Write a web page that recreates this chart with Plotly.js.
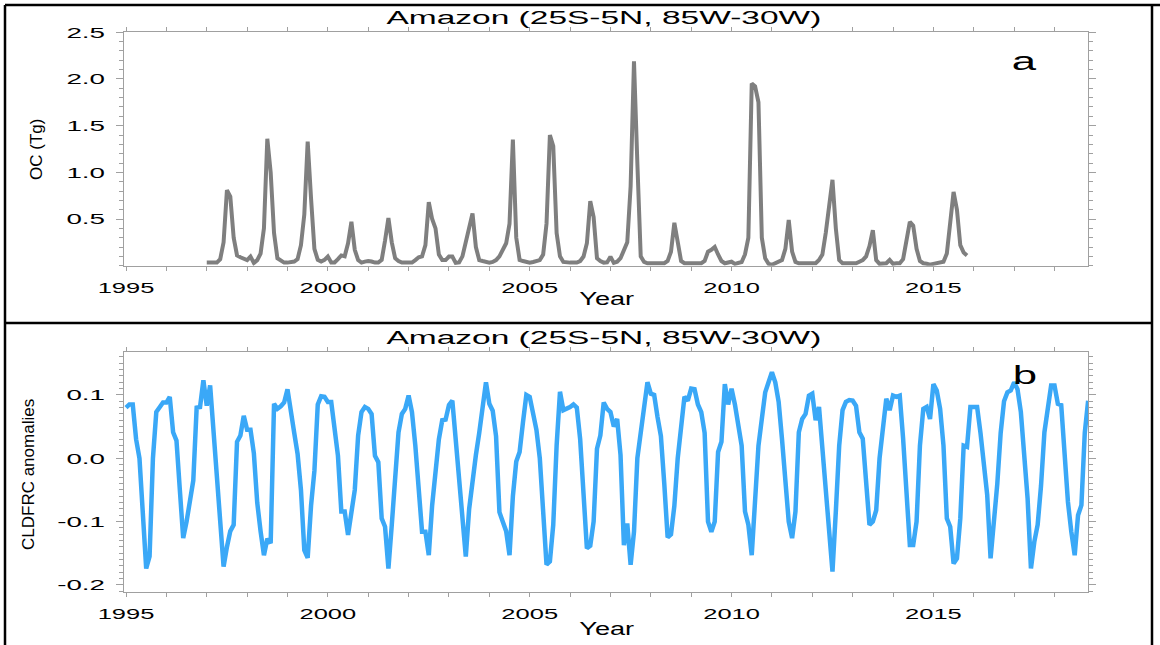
<!DOCTYPE html>
<html>
<head>
<meta charset="utf-8">
<script src="https://cdn.plot.ly/plotly-3.0.1.min.js"></script>
<style>html,body{margin:0;padding:0;background:#fff;}#chart{width:1160px;height:645px;}</style>
</head>
<body>
<div id="chart"></div>
<script>
// ---- Data (monthly values) ----
const panelTitle = "Amazon (25S-5N, 85W-30W)";
const xTitle = "Year";
const ocLabel = "OC (Tg)";
const cldLabel = "CLDFRC anomalies";
const baseYear = 1995;
const ocStartMonth = 24;   // Jan 1997 (months since Jan 1995)
const cldStartMonth = 0;   // Jan 1995
const ocValues = [
0.033,0.033,0.033,0.033,0.07,0.25,0.81,0.74,0.30,0.11,0.09,0.07,
0.06,0.098,0.03,0.06,0.13,0.40,1.36,1.00,0.35,0.08,0.05,0.033,
0.033,0.035,0.044,0.07,0.22,0.55,1.33,0.72,0.18,0.062,0.044,0.062,
0.098,0.035,0.035,0.07,0.11,0.10,0.24,0.47,0.17,0.06,0.033,0.044,
0.050,0.045,0.033,0.033,0.062,0.27,0.51,0.25,0.08,0.05,0.033,0.033,
0.033,0.033,0.06,0.09,0.10,0.22,0.68,0.50,0.40,0.12,0.06,0.06,
0.098,0.098,0.03,0.035,0.10,0.25,0.42,0.56,0.20,0.06,0.05,0.04,
0.033,0.04,0.06,0.10,0.17,0.24,0.45,1.35,0.30,0.062,0.05,0.04,
0.033,0.04,0.05,0.06,0.12,0.45,1.40,1.28,0.35,0.10,0.04,0.033,
0.033,0.033,0.033,0.05,0.098,0.24,0.69,0.52,0.08,0.05,0.033,0.035,
0.097,0.03,0.043,0.08,0.17,0.25,0.85,2.19,1.10,0.10,0.04,0.026,
0.026,0.026,0.026,0.026,0.026,0.05,0.15,0.46,0.24,0.05,0.026,0.026,
0.026,0.026,0.026,0.026,0.05,0.15,0.17,0.20,0.12,0.05,0.026,0.035,
0.043,0.02,0.03,0.04,0.12,0.30,1.95,1.92,1.75,0.30,0.079,0.02,
0.01,0.026,0.04,0.061,0.18,0.49,0.15,0.04,0.026,0.026,0.026,0.026,
0.026,0.026,0.061,0.12,0.35,0.65,0.92,0.40,0.06,0.026,0.026,0.026,
0.026,0.026,0.043,0.06,0.10,0.21,0.38,0.06,0.02,0.026,0.026,0.061,
0.02,0.026,0.026,0.07,0.25,0.47,0.43,0.18,0.05,0.026,0.02,0.01,
0.02,0.026,0.035,0.043,0.13,0.50,0.79,0.60,0.22,0.14,0.11
];
const cldValues = [
0.080,0.085,0.085,0.030,0.000,-0.085,-0.174,-0.155,0.000,0.073,0.081,0.088,
0.088,0.097,0.041,0.028,-0.050,-0.126,-0.100,-0.072,-0.035,0.080,0.081,0.123,
0.083,0.115,0.045,-0.020,-0.090,-0.171,-0.140,-0.115,-0.105,0.026,0.036,0.067,
0.045,0.045,0.008,-0.070,-0.115,-0.153,-0.127,-0.134,0.086,0.078,0.082,0.088,
0.109,0.070,0.040,0.007,-0.050,-0.145,-0.157,-0.075,-0.020,0.085,0.098,0.097,
0.089,0.089,0.047,0.004,-0.084,-0.084,-0.121,-0.080,-0.050,0.036,0.073,0.081,
0.078,0.070,0.004,-0.006,-0.095,-0.108,-0.174,-0.105,-0.022,0.041,0.070,0.078,
0.099,0.073,0.020,-0.043,-0.116,-0.116,-0.153,-0.074,-0.020,0.030,0.060,0.061,
0.084,0.091,0.030,-0.035,-0.080,-0.155,-0.080,-0.030,0.005,0.040,0.080,0.120,
0.086,0.075,0.035,-0.085,-0.100,-0.115,-0.153,-0.060,-0.005,0.010,0.057,0.100,
0.097,0.073,0.045,0.000,-0.075,-0.168,-0.163,-0.105,0.020,0.105,0.076,0.078,
0.081,0.085,0.080,0.030,-0.050,-0.142,-0.138,-0.100,0.015,0.036,0.088,0.078,
0.073,0.050,0.062,0.005,-0.137,-0.103,-0.168,-0.116,0.000,0.045,0.090,0.120,
0.102,0.100,0.065,0.035,-0.040,-0.125,-0.120,-0.075,0.000,0.055,0.097,0.091,
0.110,0.109,0.085,0.073,0.040,-0.100,-0.116,-0.100,0.010,0.026,0.117,0.085,
0.110,0.085,0.055,0.020,-0.084,-0.105,-0.153,-0.060,0.020,0.062,0.104,0.120,
0.136,0.120,0.089,0.030,-0.043,-0.100,-0.126,-0.084,0.041,0.062,0.070,0.099,
0.102,0.060,0.081,0.015,-0.040,-0.100,-0.179,-0.084,0.020,0.076,0.089,0.092,
0.091,0.083,0.041,0.031,-0.032,-0.105,-0.100,-0.082,0.000,0.047,0.094,0.076,
0.099,0.097,0.099,0.031,-0.050,-0.137,-0.137,-0.100,0.020,0.078,0.081,0.062,
0.117,0.107,0.078,0.020,-0.095,-0.108,-0.166,-0.158,-0.095,0.020,0.018,0.081,
0.081,0.081,0.040,-0.011,-0.058,-0.158,-0.105,-0.040,0.040,0.090,0.104,0.107,
0.120,0.109,0.073,0.010,-0.063,-0.174,-0.132,-0.105,-0.043,0.041,0.078,0.115,
0.115,0.086,0.084,0.010,-0.069,-0.116,-0.153,-0.090,-0.074,0.040,0.091
];
const ocTickVals = [0.5,1.0,1.5,2.0,2.5];
const ocTickText = ["0.5","1.0","1.5","2.0","2.5"];
const cldTickVals = [-0.2,-0.1,0.0,0.1];
const cldTickText = ["-0.2","-0.1","0.0","0.1"];

// month index -> decimal year
const ocX = ocValues.map((_, i) => baseYear + (ocStartMonth + i) / 12);
const cldX = cldValues.map((_, i) => baseYear + (cldStartMonth + i) / 12);

// ---- Layout (pixel geometry of the reference) ----
const W = 1160, H = 645;
const px = v => v / W, py = v => 1 - v / H;
const FONT = "Liberation Sans, Arial, Helvetica, sans-serif";
const AX = "#a0a0a0";

function xAxis(domainAnchor) {
  return {
    anchor: domainAnchor, domain: [px(124), px(1088)], range: [1994.95, 2018.83],
    tickmode: "linear", tick0: 1995, dtick: 5, tickformat: "d",
    ticks: "outside", ticklen: 4, tickwidth: 1, tickcolor: AX,
    showline: true, linecolor: AX, linewidth: 1, mirror: "ticks",
    showgrid: false, zeroline: false, ticklabelstandoff: 4,
    tickfont: {family: FONT, size: 15, color: "#000"},
    minor: {tickmode: "linear", tick0: 1995, dtick: 1, ticks: "outside", ticklen: 4, tickcolor: AX, showgrid: false}
  };
}
function yAxis(domainAnchor, dom, rng, tv, tt, minorStep) {
  return {
    anchor: domainAnchor, domain: dom, range: rng,
    tickmode: "array", tickvals: tv, ticktext: tt,
    ticks: "outside", ticklen: 7, tickwidth: 1, tickcolor: AX,
    showline: true, linecolor: AX, linewidth: 1, mirror: "ticks",
    showgrid: false, zeroline: false, ticklabelstandoff: 8,
    tickfont: {family: FONT, size: 15, color: "#000"},
    minor: {tickmode: "linear", tick0: 0, dtick: minorStep, ticks: "outside", ticklen: 4, tickcolor: AX, showgrid: false}
  };
}

const traces = [
  {x: ocX, y: ocValues, xaxis: "x", yaxis: "y", type: "scatter", mode: "lines",
   line: {color: "#7f7f7f", width: 4}, hoverinfo: "skip"},
  {x: cldX, y: cldValues, xaxis: "x2", yaxis: "y2", type: "scatter", mode: "lines",
   line: {color: "#3aa8f7", width: 4.5}, hoverinfo: "skip"}
];

const black = {color: "#000", width: 2.5};
const shapes = [
  {type: "line", xref: "paper", yref: "paper", x0: px(5), x1: px(1160), y0: py(5), y1: py(5), line: black},
  {type: "line", xref: "paper", yref: "paper", x0: px(5), x1: px(5), y0: py(5), y1: 0, line: black},
  {type: "line", xref: "paper", yref: "paper", x0: px(1152), x1: px(1152), y0: py(5), y1: 0, line: black},
  {type: "line", xref: "paper", yref: "paper", x0: px(5), x1: px(1152), y0: py(323), y1: py(323), line: black}
];

function ann(text, x, y, size, extra) {
  return Object.assign({text: text, xref: "paper", yref: "paper", x: x, y: y,
    xanchor: "center", yanchor: "middle", showarrow: false,
    font: {family: FONT, size: size, color: "#000"}}, extra || {});
}
const annotations = [
  ann(panelTitle, px(604), py(17.5), 18),
  ann(panelTitle, px(604), py(337.5), 18),
  ann(xTitle, px(607), py(299), 17.5),
  ann(xTitle, px(607), py(628.5), 17.5),
  ann(ocLabel, px(37), py(150), 17, {textangle: -90}),
  ann(cldLabel, px(28), py(475), 17, {textangle: -90}),
  ann("a", px(1024), py(61.3), 25),
  ann("b", px(1025), py(375.3), 25)
];

const layout = {
  width: W, height: H, margin: {l: 0, r: 0, t: 0, b: 0, pad: 0},
  paper_bgcolor: "#fff", plot_bgcolor: "#fff", showlegend: false,
  font: {family: FONT, color: "#000"},
  xaxis: xAxis("y"),
  yaxis: yAxis("x", [py(265.7), py(32.3)], [0, 2.5], ocTickVals, ocTickText, 0.1),
  xaxis2: xAxis("y2"),
  yaxis2: yAxis("x2", [py(591.7), py(352.3)], [-0.2106, 0.1673], cldTickVals, cldTickText, 0.01),
  shapes: shapes, annotations: annotations
};

// Reference text is horizontally stretched; reproduce with SVG textLength.
function stretch(sel, f) {
  document.querySelectorAll(sel).forEach(t => {
    const w = t.getComputedTextLength();
    if (w > 0) {
      t.setAttribute("textLength", (w * f).toFixed(1));
      t.setAttribute("lengthAdjust", "spacingAndGlyphs");
    }
  });
}

Plotly.newPlot("chart", traces, layout, {staticPlot: true, displayModeBar: false}).then(() => {
  stretch(".xtick text, .x2tick text", 1.7);
  stretch(".ytick text, .y2tick text", 1.85);
  stretch('.annotation[data-index="0"] text, .annotation[data-index="1"] text', 1.86);
  stretch('.annotation[data-index="2"] text, .annotation[data-index="3"] text', 1.55);
  stretch('.annotation[data-index="6"] text, .annotation[data-index="7"] text', 1.75);
});
</script>
</body>
</html>
